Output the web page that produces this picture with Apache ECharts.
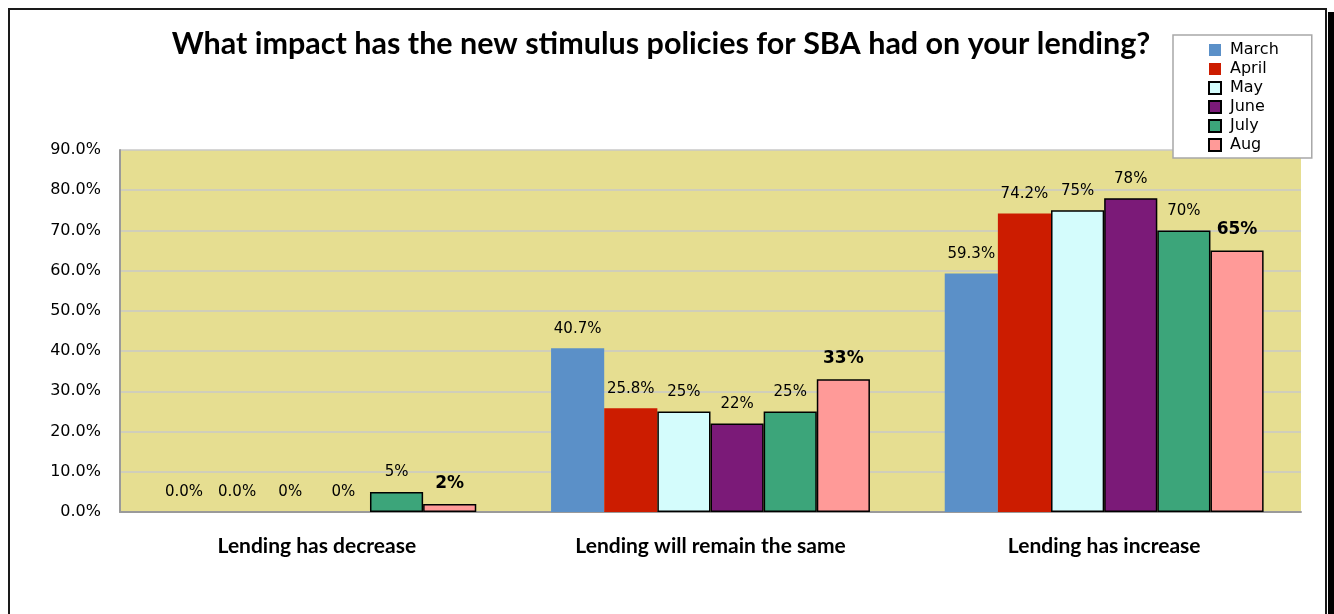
<!DOCTYPE html>
<html>
<head>
<meta charset="utf-8">
<script src="https://cdn.jsdelivr.net/npm/echarts@6/dist/echarts.min.js"></script>
<style>
html,body{margin:0;padding:0;background:#fff;}
#c{width:1334px;height:614px;}
</style>
</head>
<body>
<div id="c"></div>
<script>
var categories = ['Lending has decrease', 'Lending will remain the same', 'Lending has increase'];
var seriesNames = ['March', 'April', 'May', 'June', 'July', 'Aug'];
var marchVals = [0, 40.7, 59.3];
var aprilVals = [0, 25.8, 74.2];
var mayVals = [0, 25, 75];
var juneVals = [0, 22, 78];
var julyVals = [5, 25, 70];
var augVals = [2, 33, 65];
var marchLabels = ['0.0%', '40.7%', '59.3%'];
var aprilLabels = ['0.0%', '25.8%', '74.2%'];
var mayLabels = ['0%', '25%', '75%'];
var juneLabels = ['0%', '22%', '78%'];
var julyLabels = ['5%', '25%', '70%'];
var augLabels = ['2%', '33%', '65%'];
var yTicks = ['0.0%', '10.0%', '20.0%', '30.0%', '40.0%', '50.0%', '60.0%', '70.0%', '80.0%', '90.0%'];

var colors = ['#5b90c8', '#cc1c00', '#d4fcfc', '#7b1a78', '#3ca57a', '#ff9a98'];
var bordered = [false, false, true, true, true, true];
var boldLabel = [false, false, false, false, false, true];
var allVals = [marchVals, aprilVals, mayVals, juneVals, julyVals, augVals];
var allLabels = [marchLabels, aprilLabels, mayLabels, juneLabels, julyLabels, augLabels];

var series = seriesNames.map(function (name, i) {
  return {
    name: name,
    type: 'bar',
    barGap: '0%',
    barCategoryGap: '19%',
    itemStyle: {
      color: colors[i],
      borderColor: '#000',
      borderWidth: bordered[i] ? 1.5 : 0
    },
    label: {
      show: true,
      position: 'top',
      distance: 12,
      color: '#000',
      fontFamily: 'DejaVu Sans',
      fontSize: boldLabel[i] ? 17 : 15,
      fontWeight: boldLabel[i] ? 'bold' : 'normal',
      formatter: (function (labs) { return function (p) { return labs[p.dataIndex]; }; })(allLabels[i])
    },
    data: allVals[i].map(function (v) {
      return v === 0 ? { value: v, itemStyle: { borderWidth: 0 } } : v;
    })
  };
});

var chart = echarts.init(document.getElementById('c'), null, { renderer: 'canvas' });
chart.setOption({
  animation: false,
  backgroundColor: '#fff',
  color: colors,
  title: {
    text: 'What impact has the new stimulus policies for SBA had on your lending?',
    left: 656,
    textAlign: 'center',
    top: 24,
    textStyle: { fontFamily: 'Lato', fontSize: 30.5, fontWeight: 'bold', color: '#000' }
  },
  legend: {
    orient: 'vertical',
    left: 1173,
    top: 35,
    padding: [7, 33, 5, 35],
    backgroundColor: '#fff',
    borderColor: '#a8a8a8',
    borderWidth: 1.5,
    borderRadius: 0,
    itemWidth: 12,
    itemHeight: 12,
    itemGap: 3,
    icon: 'rect',
    textStyle: { fontFamily: 'DejaVu Sans', fontSize: 16, color: '#000', lineHeight: 16, padding: [0, 0, 0, 4] },
    data: seriesNames
  },
  grid: {
    left: 120,
    top: 150,
    width: 1181,
    height: 362,
    show: true,
    backgroundColor: '#e6de91',
    borderWidth: 0
  },
  xAxis: {
    type: 'category',
    data: categories,
    axisLine: { show: true, lineStyle: { color: '#9a9a9a', width: 2 } },
    axisTick: { show: false },
    axisLabel: { margin: 24, fontFamily: 'Lato', fontWeight: 'bold', fontSize: 21, color: '#000' }
  },
  yAxis: {
    type: 'value',
    min: 0,
    max: 90,
    interval: 10,
    axisLine: { show: true, lineStyle: { color: '#9a9a9a', width: 2 } },
    axisTick: { show: false },
    splitLine: { show: true, lineStyle: { color: '#c8c8c8', width: 1.5 } },
    axisLabel: {
      margin: 19,
      fontFamily: 'DejaVu Sans',
      fontSize: 16,
      color: '#000',
      formatter: function (v) { return yTicks[Math.round(v / 10)]; }
    }
  },
  graphic: [
    { type: 'rect', silent: true, z: 100, shape: { x: 9, y: 9, width: 1317, height: 700 }, style: { fill: 'none', stroke: '#1a1a1a', lineWidth: 2 } },
    { type: 'rect', silent: true, z: 100, shape: { x: 1328, y: 12, width: 6, height: 700 }, style: { fill: '#000' } }
  ],
  series: series
});
</script>
</body>
</html>
